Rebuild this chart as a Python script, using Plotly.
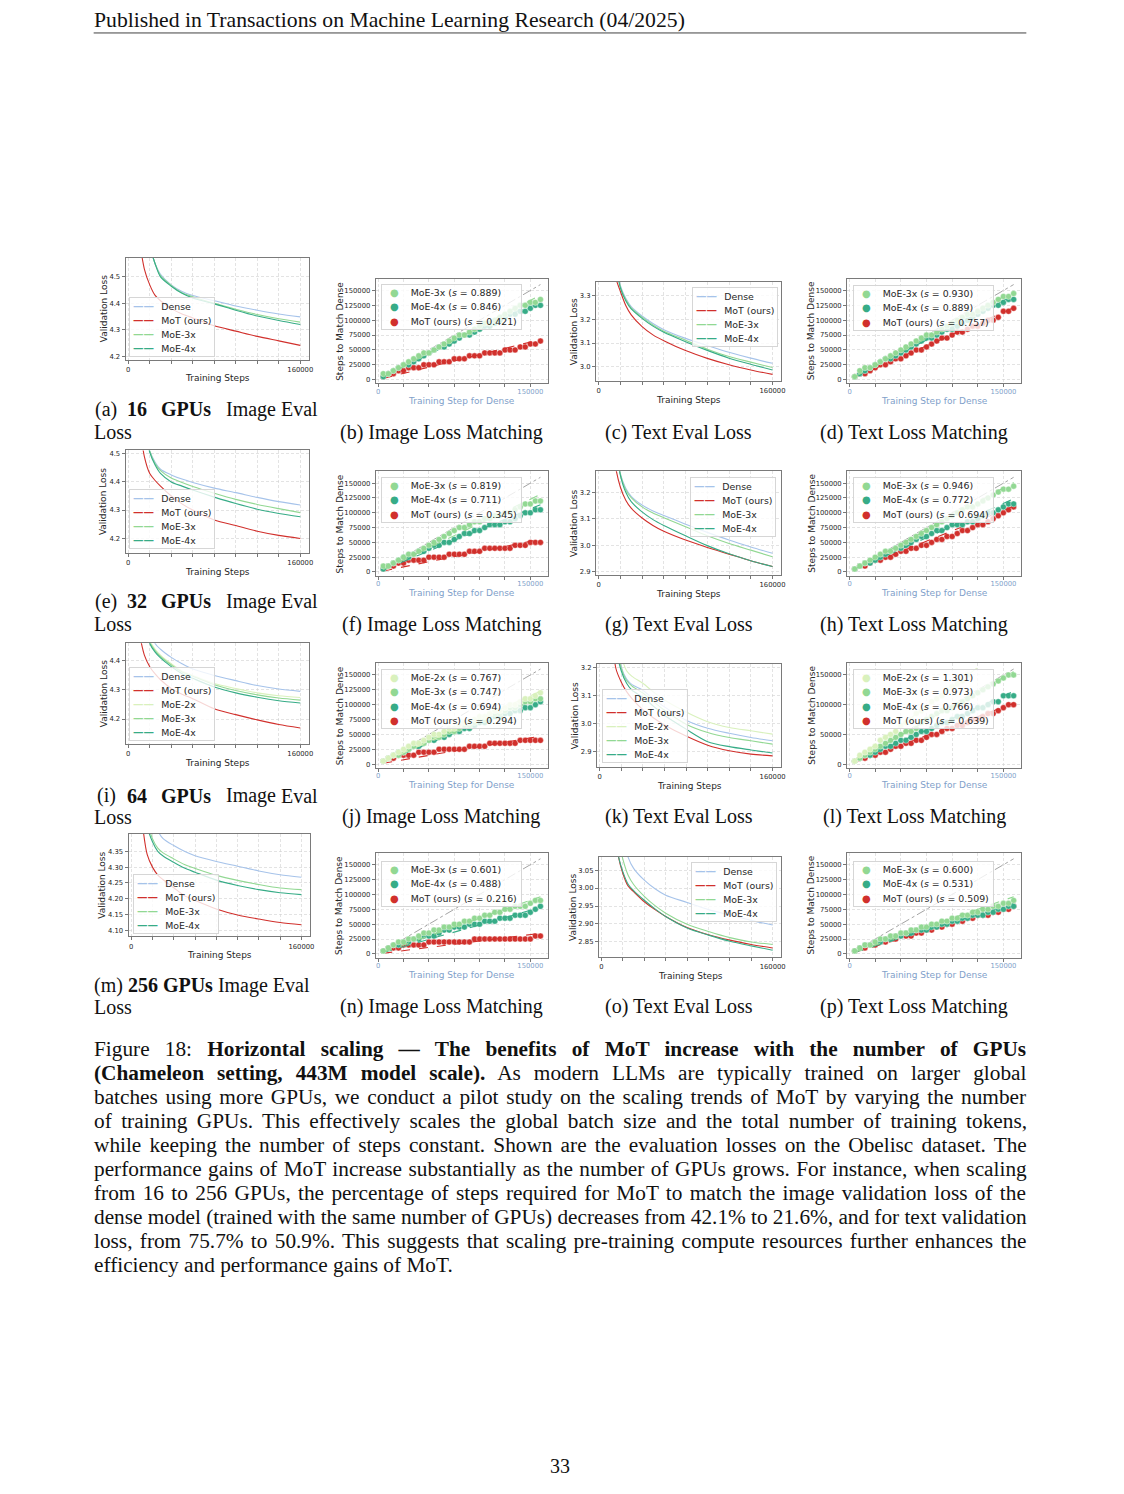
import plotly.graph_objects as go

K = 1000
W, H = 1124, 1494
SANS = "DejaVu Sans"
SERIF = "Liberation Serif"
INK = "#262626"

COLORS = {
    "Dense": "#a6c3ea",
    "MoT (ours)": "#d1302c",
    "MoE-2x": "#d9f1bd",
    "MoE-3x": "#92d893",
    "MoE-4x": "#37ac87",
}

# ---- eval loss curves, training step in thousands ----
LOSS_STEPS = [10, 15, 20, 25, 30, 40, 50, 60, 80, 100, 120, 140, 160]
LOSS_XTICKS = [0, 20, 40, 60, 80, 100, 120, 140, 160]

# (a) 16 GPUs image
A_DENSE = [4.85, 4.72, 4.62, 4.55, 4.51, 4.47, 4.445, 4.43, 4.41, 4.39, 4.374, 4.36, 4.349]
A_MOT = [4.65, 4.53, 4.47, 4.43, 4.41, 4.38, 4.36, 4.345, 4.315, 4.295, 4.275, 4.258, 4.241]
A_MOE3 = [4.85, 4.72, 4.62, 4.55, 4.505, 4.468, 4.44, 4.425, 4.40, 4.378, 4.358, 4.342, 4.329]
A_MOE4 = [4.85, 4.72, 4.62, 4.55, 4.50, 4.465, 4.438, 4.42, 4.398, 4.374, 4.352, 4.335, 4.32]
A_YTICKS = [4.2, 4.3, 4.4, 4.5]

# (c) 16 GPUs text
C_DENSE = [3.7, 3.48, 3.345, 3.29, 3.255, 3.215, 3.183, 3.157, 3.12, 3.09, 3.061, 3.036, 3.014]
C_MOT = [3.6, 3.39, 3.32, 3.26, 3.22, 3.17, 3.135, 3.11, 3.068, 3.035, 3.008, 2.986, 2.967]
C_MOE3 = [3.7, 3.48, 3.34, 3.285, 3.25, 3.21, 3.177, 3.15, 3.112, 3.074, 3.043, 3.019, 2.996]
C_MOE4 = [3.7, 3.47, 3.335, 3.28, 3.245, 3.205, 3.172, 3.146, 3.106, 3.069, 3.036, 3.01, 2.986]
C_YTICKS = [3.0, 3.1, 3.2, 3.3]

# (e) 32 GPUs image
E_DENSE = [4.8, 4.6, 4.51, 4.47, 4.445, 4.425, 4.41, 4.398, 4.378, 4.362, 4.345, 4.33, 4.318]
E_MOT = [4.62, 4.49, 4.43, 4.405, 4.385, 4.35, 4.322, 4.30, 4.265, 4.245, 4.225, 4.21, 4.199]
E_MOE3 = [4.8, 4.6, 4.51, 4.465, 4.44, 4.414, 4.398, 4.384, 4.36, 4.338, 4.32, 4.305, 4.291]
E_MOE4 = [4.8, 4.6, 4.505, 4.46, 4.43, 4.40, 4.385, 4.371, 4.346, 4.323, 4.303, 4.288, 4.276]
E_YTICKS = [4.2, 4.3, 4.4, 4.5]

# (g) 32 GPUs text
G_DENSE = [3.6, 3.4, 3.27, 3.215, 3.185, 3.152, 3.13, 3.113, 3.08, 3.049, 3.02, 2.994, 2.97]
G_MOT = [3.5, 3.31, 3.22, 3.17, 3.14, 3.103, 3.075, 3.053, 3.02, 2.992, 2.967, 2.942, 2.92]
G_MOE3 = [3.6, 3.4, 3.27, 3.21, 3.18, 3.145, 3.122, 3.104, 3.07, 3.036, 3.007, 2.982, 2.957]
G_MOE4 = [3.6, 3.4, 3.265, 3.2, 3.165, 3.126, 3.097, 3.075, 3.036, 2.999, 2.968, 2.942, 2.92]
G_YTICKS = [2.9, 3.0, 3.1, 3.2]

# (i) 64 GPUs image
I_DENSE = [4.75, 4.6, 4.52, 4.46, 4.44, 4.412, 4.39, 4.372, 4.35, 4.332, 4.315, 4.303, 4.295]
I_MOT = [4.5, 4.42, 4.38, 4.355, 4.335, 4.305, 4.285, 4.27, 4.235, 4.215, 4.197, 4.181, 4.169]
I_MOE2 = [4.7, 4.55, 4.47, 4.44, 4.42, 4.39, 4.365, 4.35, 4.322, 4.305, 4.29, 4.28, 4.274]
I_MOE3 = [4.7, 4.55, 4.465, 4.435, 4.415, 4.386, 4.362, 4.347, 4.318, 4.298, 4.283, 4.272, 4.265]
I_MOE4 = [4.7, 4.55, 4.46, 4.43, 4.41, 4.38, 4.356, 4.34, 4.31, 4.29, 4.275, 4.263, 4.255]
I_YTICKS = [4.2, 4.3, 4.4]

# (k) 64 GPUs text
K_DENSE = [3.6, 3.38, 3.205, 3.16, 3.14, 3.12, 3.088, 3.06, 3.012, 2.983, 2.965, 2.95, 2.938]
K_MOT = [3.45, 3.2, 3.15, 3.115, 3.09, 3.05, 3.02, 2.995, 2.955, 2.922, 2.902, 2.89, 2.884]
K_MOE2 = [3.7, 3.45, 3.25, 3.19, 3.17, 3.145, 3.113, 3.085, 3.042, 3.007, 2.986, 2.974, 2.962]
K_MOE3 = [3.55, 3.35, 3.2, 3.155, 3.135, 3.11, 3.079, 3.048, 2.998, 2.968, 2.95, 2.938, 2.926]
K_MOE4 = [3.5, 3.28, 3.19, 3.145, 3.12, 3.095, 3.062, 3.03, 2.98, 2.935, 2.917, 2.905, 2.894]
K_YTICKS = [2.9, 3.0, 3.1, 3.2]

# (m) 256 GPUs image
M_DENSE = [4.7, 4.55, 4.47, 4.415, 4.39, 4.368, 4.35, 4.336, 4.318, 4.303, 4.288, 4.276, 4.268]
M_MOT = [4.45, 4.34, 4.30, 4.275, 4.26, 4.235, 4.21, 4.195, 4.168, 4.149, 4.136, 4.125, 4.118]
M_MOE3 = [4.6, 4.45, 4.39, 4.36, 4.345, 4.326, 4.308, 4.296, 4.274, 4.258, 4.245, 4.234, 4.229]
M_MOE4 = [4.6, 4.43, 4.38, 4.35, 4.335, 4.315, 4.297, 4.284, 4.259, 4.242, 4.229, 4.219, 4.213]
M_YTICKS = [4.10, 4.15, 4.20, 4.25, 4.30, 4.35]

# (o) 256 GPUs text
O_DENSE = [3.4, 3.25, 3.15, 3.085, 3.055, 3.022, 2.998, 2.98, 2.96, 2.94, 2.925, 2.91, 2.897]
O_MOT = [3.25, 3.1, 3.04, 3.005, 2.99, 2.962, 2.94, 2.921, 2.89, 2.87, 2.855, 2.843, 2.833]
O_MOE3 = [3.3, 3.15, 3.08, 3.035, 3.01, 2.977, 2.951, 2.93, 2.899, 2.879, 2.862, 2.85, 2.843]
O_MOE4 = [3.25, 3.1, 3.045, 3.01, 2.993, 2.966, 2.942, 2.921, 2.889, 2.869, 2.852, 2.839, 2.827]
O_YTICKS = [2.85, 2.90, 2.95, 3.00, 3.05]

# ---- steps to match dense, in thousands ----
MATCH_STEPS = [5, 10, 15, 20, 25, 30, 35, 40, 45, 50, 55, 60, 65, 70, 75, 80,
               85, 90, 95, 100, 105, 110, 115, 120, 125, 130, 135, 140, 145, 150, 155, 160]
MATCH_XTICKS = [0, 25, 50, 75, 100, 125, 150]
MATCH_YTICKS = [0, 25, 50, 75, 100, 125, 150]
MATCH_YTICKS_COARSE = [0, 50, 100, 150]

B_MOE3 = [10, 10, 15, 20, 25, 30, 35, 40, 45, 45, 50, 55, 60, 65, 70, 75,
          75, 80, 85, 90, 95, 95, 100, 105, 110, 115, 120, 125, 125, 130, 130, 135]
B_MOE4 = [5, 10, 15, 20, 25, 25, 30, 35, 40, 45, 50, 55, 55, 60, 65, 70,
          75, 75, 80, 85, 90, 90, 95, 100, 105, 110, 110, 115, 115, 120, 125, 125]
B_MOT = [5, 10, 10, 15, 15, 20, 20, 20, 25, 25, 25, 30, 30, 30, 35, 35,
         35, 40, 40, 40, 45, 45, 45, 45, 50, 50, 50, 55, 55, 60, 60, 65]
B_SLOPES = [0.889, 0.846, 0.421]

D_MOE3 = [5, 15, 20, 20, 25, 30, 35, 40, 45, 50, 55, 60, 65, 70, 75, 75,
          80, 85, 90, 95, 100, 105, 110, 110, 115, 120, 125, 130, 135, 140, 140, 145]
D_MOE4 = [5, 10, 15, 20, 25, 30, 35, 35, 40, 45, 50, 55, 60, 65, 70, 70,
          75, 80, 85, 85, 90, 95, 100, 105, 110, 115, 120, 125, 125, 130, 135, 135]
D_MOT = [5, 10, 10, 15, 20, 25, 25, 30, 35, 35, 40, 45, 50, 50, 55, 60,
         65, 70, 70, 75, 80, 80, 85, 90, 90, 95, 100, 100, 105, 115, 115, 120]
D_SLOPES = [0.930, 0.889, 0.757]

F_MOE3 = [10, 10, 15, 20, 25, 30, 30, 35, 40, 45, 50, 55, 60, 65, 70, 75,
          75, 80, 85, 85, 90, 90, 95, 95, 100, 100, 105, 110, 115, 115, 120, 120]
F_MOE4 = [5, 10, 15, 20, 25, 25, 30, 35, 35, 40, 45, 45, 50, 50, 55, 60,
          65, 65, 70, 70, 75, 80, 80, 80, 85, 85, 90, 95, 100, 100, 105, 105]
F_MOT = [5, 10, 10, 15, 15, 20, 20, 20, 20, 25, 25, 25, 25, 30, 30, 30,
         30, 35, 35, 35, 40, 40, 40, 40, 40, 40, 45, 45, 45, 50, 50, 50]
F_SLOPES = [0.819, 0.711, 0.345]

H_MOE3 = [5, 10, 15, 20, 25, 30, 35, 35, 40, 45, 50, 55, 60, 65, 70, 75,
          80, 85, 90, 95, 100, 105, 110, 110, 115, 120, 125, 130, 135, 140, 140, 145]
H_MOE4 = [5, 10, 15, 15, 20, 25, 30, 35, 40, 40, 45, 50, 55, 60, 60, 65,
          70, 70, 75, 80, 80, 80, 85, 85, 90, 95, 100, 100, 105, 110, 115, 115]
H_MOT = [5, 10, 10, 15, 20, 20, 25, 25, 30, 35, 35, 40, 40, 45, 45, 50,
         55, 55, 60, 60, 65, 70, 70, 75, 80, 80, 85, 90, 95, 100, 105, 110]
H_SLOPES = [0.946, 0.772, 0.694]

J_MOE2 = [5, 10, 15, 20, 25, 30, 35, 35, 40, 45, 50, 50, 55, 60, 60, 65,
          70, 70, 75, 80, 80, 85, 90, 90, 95, 100, 100, 105, 110, 110, 115, 120]
J_MOE3 = [5, 10, 15, 15, 20, 25, 30, 35, 35, 40, 45, 45, 50, 55, 55, 60,
          65, 65, 70, 75, 75, 80, 85, 85, 90, 95, 95, 100, 105, 105, 110, 110]
J_MOE4 = [5, 10, 15, 20, 20, 25, 30, 30, 35, 40, 40, 45, 45, 50, 55, 55,
          60, 60, 65, 70, 70, 75, 80, 80, 85, 85, 90, 90, 95, 95, 100, 105]
J_MOT = [5, 10, 10, 15, 15, 15, 15, 20, 20, 20, 20, 25, 25, 25, 25, 25,
         25, 30, 30, 30, 30, 35, 35, 35, 35, 35, 35, 40, 40, 40, 40, 40]
J_SLOPES = [0.767, 0.747, 0.694, 0.294]

L_MOE2 = [5, 15, 20, 25, 30, 40, 45, 50, 55, 65, 70, 75, 85, 90, 95, 105,
          110, 115, 125, 130, 135, 140, 150, None, None, None, None, None, None, None, None, None]
L_MOE3 = [5, 10, 15, 20, 25, 30, 35, 40, 45, 50, 55, 55, 60, 70, 75, 80,
          85, 90, 90, 95, 100, 105, 110, 115, 120, 125, 130, 135, 140, 145, 150, 150]
L_MOE4 = [5, 10, 15, 15, 20, 25, 30, 30, 35, 40, 40, 45, 50, 55, 55, 60,
          65, 70, 70, 75, 80, 80, 85, 90, 95, 95, 100, 105, 105, 115, 115, 115]
L_MOT = [5, 10, 10, 15, 15, 20, 20, 25, 30, 30, 35, 35, 40, 40, 45, 50,
         50, 55, 60, 60, 65, 65, 70, 75, 75, 80, 85, 85, 90, 95, 100, 100]
L_SLOPES = [1.301, 0.973, 0.766, 0.639]

N_MOE3 = [5, 10, 15, 20, 20, 25, 25, 30, 35, 35, 40, 40, 45, 45, 50, 50,
          55, 55, 60, 60, 65, 65, 70, 70, 75, 75, 80, 80, 80, 85, 90, 90]
N_MOE4 = [5, 10, 15, 15, 20, 20, 25, 25, 30, 30, 30, 35, 40, 40, 45, 45,
          45, 50, 50, 50, 55, 55, 55, 60, 60, 60, 65, 65, 65, 70, 75, 80]
N_MOT = [5, 10, 10, 10, 15, 15, 15, 15, 15, 20, 20, 20, 20, 20, 20, 20,
         20, 20, 25, 25, 25, 25, 25, 25, 25, 25, 25, 25, 25, 25, 30, 30]
N_SLOPES = [0.601, 0.488, 0.216]

P_MOE3 = [5, 10, 15, 15, 20, 25, 25, 30, 30, 35, 35, 40, 40, 45, 45, 50,
          50, 55, 55, 60, 60, 65, 65, 70, 70, 75, 75, 80, 80, 85, 85, 90]
P_MOE4 = [5, 10, 15, 15, 20, 20, 25, 25, 30, 30, 35, 35, 40, 40, 40, 45,
          45, 50, 50, 55, 55, 60, 60, 65, 65, 65, 70, 70, 75, 75, 80, 80]
P_MOT = [5, 10, 10, 15, 15, 20, 20, 25, 25, 30, 30, 30, 35, 35, 40, 40,
         45, 45, 50, 50, 55, 55, 60, 60, 65, 65, 65, 70, 70, 75, 75, 80]
P_SLOPES = [0.600, 0.531, 0.509]

HEADER = "Published in Transactions on Machine Learning Research (04/2025)"
PAGE_NUMBER = "33"
CAPTION_LINES = [
    "Figure 18: <b>Horizontal scaling — The benefits of MoT increase with the number of GPUs</b>",
    "<b>(Chameleon setting, 443M model scale).</b> As modern LLMs are typically trained on larger global",
    "batches using more GPUs, we conduct a pilot study on the scaling trends of MoT by varying the number",
    "of training GPUs. This effectively scales the global batch size and the total number of training tokens,",
    "while keeping the number of steps constant. Shown are the evaluation losses on the Obelisc dataset. The",
    "performance gains of MoT increase substantially as the number of GPUs grows. For instance, when scaling",
    "from 16 to 256 GPUs, the percentage of steps required for MoT to match the image validation loss of the",
    "dense model (trained with the same number of GPUs) decreases from 42.1% to 21.6%, and for text validation",
    "loss, from 75.7% to 50.9%. This suggests that scaling pre-training compute resources further enhances the",
    "efficiency and performance gains of MoT.",
]
# extra word spacing (px) that stretches each caption line to the justified width
CAPTION_SPACING = [9.9, 7.65, 2.35, 4.1, 2.8, 1.13, 2.0, -0.1, 2.0, 0.0]

LOSS_PANELS = [
    dict(box=(126, 258, 310, 360), yr=(4.1875, 4.573), yticks=A_YTICKS, dec=1, legend=(129, 297),
         series=[("Dense", A_DENSE), ("MoT (ours)", A_MOT), ("MoE-3x", A_MOE3), ("MoE-4x", A_MOE4)]),
    dict(box=(598, 282, 784, 381.5), yr=(2.939, 3.361), yticks=C_YTICKS, dec=1, legend=(694, 287),
         series=[("Dense", C_DENSE), ("MoT (ours)", C_MOT), ("MoE-3x", C_MOE3), ("MoE-4x", C_MOE4)]),
    dict(box=(126, 451, 310, 553.3), yr=(4.149, 4.512), yticks=E_YTICKS, dec=1, legend=(129, 490),
         series=[("Dense", E_DENSE), ("MoT (ours)", E_MOT), ("MoE-3x", E_MOE3), ("MoE-4x", E_MOE4)]),
    dict(box=(598, 472, 784, 575.3), yr=(2.890, 3.279), yticks=G_YTICKS, dec=1, legend=(692, 478),
         series=[("Dense", G_DENSE), ("MoT (ours)", G_MOT), ("MoE-3x", G_MOE3), ("MoE-4x", G_MOE4)]),
    dict(box=(126, 644, 310, 745), yr=(4.114, 4.461), yticks=I_YTICKS, dec=1, legend=(129, 668),
         series=[("Dense", I_DENSE), ("MoT (ours)", I_MOT), ("MoE-2x", I_MOE2), ("MoE-3x", I_MOE3),
                 ("MoE-4x", I_MOE4)]),
    dict(box=(599, 665, 784, 767.7), yr=(2.845, 3.214), yticks=K_YTICKS, dec=1, legend=(604, 690),
         series=[("Dense", K_DENSE), ("MoT (ours)", K_MOT), ("MoE-2x", K_MOE2), ("MoE-3x", K_MOE3),
                 ("MoE-4x", K_MOE4)]),
    dict(box=(129, 835, 311, 937.7), yr=(4.081, 4.405), yticks=M_YTICKS, dec=2, legend=(133, 875),
         series=[("Dense", M_DENSE), ("MoT (ours)", M_MOT), ("MoE-3x", M_MOE3), ("MoE-4x", M_MOE4)]),
    dict(box=(601, 858, 784, 958.3), yr=(2.808, 3.087), yticks=O_YTICKS, dec=2, legend=(693, 863),
         series=[("Dense", O_DENSE), ("MoT (ours)", O_MOT), ("MoE-3x", O_MOE3), ("MoE-4x", O_MOE4)]),
]

MATCH_PANELS = [
    dict(box=(377, 279, 550, 384), legend=(382, 284), yticks=MATCH_YTICKS,
         series=list(zip(["MoE-3x", "MoE-4x", "MoT (ours)"], [B_MOE3, B_MOE4, B_MOT], B_SLOPES))),
    dict(box=(850, 279, 1025, 384), legend=(856, 285), yticks=MATCH_YTICKS,
         series=list(zip(["MoE-3x", "MoE-4x", "MoT (ours)"], [D_MOE3, D_MOE4, D_MOT], D_SLOPES))),
    dict(box=(377, 472, 550, 576.6), legend=(382, 478), yticks=MATCH_YTICKS,
         series=list(zip(["MoE-3x", "MoE-4x", "MoT (ours)"], [F_MOE3, F_MOE4, F_MOT], F_SLOPES))),
    dict(box=(850, 472, 1025, 576.6), legend=(856, 478), yticks=MATCH_YTICKS,
         series=list(zip(["MoE-3x", "MoE-4x", "MoT (ours)"], [H_MOE3, H_MOE4, H_MOT], H_SLOPES))),
    dict(box=(377, 664, 550, 769), legend=(382, 670), yticks=MATCH_YTICKS,
         series=list(zip(["MoE-2x", "MoE-3x", "MoE-4x", "MoT (ours)"],
                         [J_MOE2, J_MOE3, J_MOE4, J_MOT], J_SLOPES))),
    dict(box=(850, 664, 1025, 769), legend=(856, 670), yticks=MATCH_YTICKS_COARSE,
         series=list(zip(["MoE-2x", "MoE-3x", "MoE-4x", "MoT (ours)"],
                         [L_MOE2, L_MOE3, L_MOE4, L_MOT], L_SLOPES))),
    dict(box=(377, 854, 550, 959), legend=(382, 862), yticks=MATCH_YTICKS,
         series=list(zip(["MoE-3x", "MoE-4x", "MoT (ours)"], [N_MOE3, N_MOE4, N_MOT], N_SLOPES))),
    dict(box=(850, 854, 1025, 959), legend=(856, 862), yticks=MATCH_YTICKS,
         series=list(zip(["MoE-3x", "MoE-4x", "MoT (ours)"], [P_MOE3, P_MOE4, P_MOT], P_SLOPES))),
]

fig = go.Figure()
layout = {}
annotations = []


def note(x, y, text, size, family=SANS, color=INK, xanchor="center", angle=0):
    # left-anchored notes carry 2px of box padding, so pull them back to the measured edge
    if xanchor == "left":
        x -= 2
    annotations.append(dict(xref="paper", yref="paper", x=x / W, y=1 - y / H, text=text,
                            showarrow=False, xanchor=xanchor, yanchor="middle", textangle=angle,
                            font=dict(family=family, size=size, color=color)))


def set_axes(n, box, xr, yr, xvals, xtext, yvals, ytext, xtick_color, xstandoff):
    x0, y0, x1, y1 = box
    sfx = "" if n == 1 else str(n)
    common = dict(showline=True, mirror=True, linecolor="#7a7a7a", linewidth=1, showgrid=True,
                  gridcolor="#d0d0d0", griddash="3px,2px", gridwidth=0.6, zeroline=False, ticks="outside",
                  ticklen=3, tickwidth=0.8, tickcolor="#555", tickmode="array", fixedrange=True)
    layout["xaxis" + sfx] = dict(domain=[x0 / W, x1 / W], range=xr, anchor="y" + sfx, tickvals=xvals,
                                 ticktext=xtext, ticklabelstandoff=xstandoff,
                                 tickfont=dict(family=SANS, size=6.8, color=xtick_color), **common)
    layout["yaxis" + sfx] = dict(domain=[1 - y1 / H, 1 - y0 / H], range=yr, anchor="x" + sfx,
                                 tickvals=yvals, ticktext=ytext,
                                 tickfont=dict(family=SANS, size=6.8, color=INK), **common)
    return "x" + sfx, "y" + sfx


def legend_box(x, y, width, base, rows):
    annotations.append(dict(xref="paper", yref="paper", x=x / W, y=1 - y / H, xanchor="left",
                            yanchor="top", text="<br>".join(rows), align="left", showarrow=False,
                            width=width, bgcolor="rgba(255,255,255,0.8)", bordercolor="#d6d6d6",
                            borderwidth=1, borderpad=1, font=dict(family=SANS, size=base, color=INK)))


n = 0
for panel in LOSS_PANELS:
    n += 1
    x0, y0, x1, y1 = panel["box"]
    xvals = [v * K for v in LOSS_XTICKS]
    xtext = [str(v) if v in (0, 160000) else "" for v in xvals]
    ytext = [f"{v:.{panel['dec']}f}" for v in panel["yticks"]]
    xa, ya = set_axes(n, panel["box"], [-2500, 168000], list(panel["yr"]), xvals, xtext,
                      panel["yticks"], ytext, INK, 0)
    for name, vals in panel["series"]:
        fig.add_trace(go.Scatter(x=[s * K for s in LOSS_STEPS], y=vals, xaxis=xa, yaxis=ya, mode="lines",
                                 line=dict(color=COLORS[name], width=1.1, shape="spline", smoothing=0.8),
                                 showlegend=False, hoverinfo="skip"))
    off = 22 if panel["dec"] == 1 else 26
    note(x0 - off, (y0 + y1) / 2, "Validation Loss", 9, angle=-90)
    note((x0 + x1) / 2, y1 + 19, "Training Steps", 9)
    rows = [f'<span style="font-size:6px">&nbsp;</span>'
            f'<span style="color:{COLORS[name]};font-size:10.5px"><b>——</b></span>'
            f'<span style="font-size:11.5px">&nbsp;&nbsp;</span>'
            f'<span style="font-size:9.4px">{name}</span>' for name, _ in panel["series"]]
    lx, ly = panel["legend"]
    legend_box(lx, ly, 82, 10.8, rows)

for panel in MATCH_PANELS:
    n += 1
    x0, y0, x1, y1 = panel["box"]
    xvals = [v * K for v in MATCH_XTICKS]
    xtext = [str(v) if v in (0, 150000) else "" for v in xvals]
    yvals = [v * K for v in panel["yticks"]]
    xa, ya = set_axes(n, panel["box"], [-2500, 167500], [-6500, 170000], xvals, xtext,
                      yvals, [str(v) for v in yvals], "#7f9fca", -2)
    xs = [s * K for s in MATCH_STEPS]
    fig.add_trace(go.Scatter(x=[xs[0], xs[-1]], y=[xs[0], xs[-1]], xaxis=xa, yaxis=ya, mode="lines",
                             line=dict(color="#8c8c8c", width=0.8, dash="dashdot"),
                             showlegend=False, hoverinfo="skip"))
    for name, vals, slope in reversed(panel["series"]):
        ys = [v * K if v is not None else None for v in vals]
        fig.add_trace(go.Scatter(x=xs, y=ys, xaxis=xa, yaxis=ya, mode="markers",
                                 marker=dict(color=COLORS[name], size=6, line=dict(color="white", width=0.4)),
                                 showlegend=False, hoverinfo="skip"))
        fig.add_trace(go.Scatter(x=[xs[0], xs[-1]], y=[slope * xs[0], slope * xs[-1]], xaxis=xa, yaxis=ya,
                                 mode="lines", line=dict(color=COLORS[name], width=1.1, dash="dash"),
                                 showlegend=False, hoverinfo="skip"))
    note(x0 - 36, (y0 + y1) / 2, "Steps to Match Dense", 9, angle=-90)
    note((x0 + x1) / 2, y1 + 17.5, "Training Step for Dense", 9, color="#7f9fca")
    rows = [f'&nbsp;&nbsp;<span style="color:{COLORS[name]};font-size:10px">●</span>'
            f'<span style="font-size:9.4px">&nbsp;&nbsp;&nbsp;&nbsp;{name} (<i>s</i> = {slope:.3f})</span>'
            for name, _, slope in panel["series"]]
    lx, ly = panel["legend"]
    legend_box(lx, ly, 137, 11, rows)

# sub-figure captions
ROW_Y = [(410, 433), (602, 625), (797, 818), (987, 1008)]
GPU_COUNTS = ["16", "32", "64", "256"]
LETTERS = ["abcd", "efgh", "ijkl", "mnop"]
for (ya, yb), gpus, letters in zip(ROW_Y, GPU_COUNTS, LETTERS):
    if gpus == "256":
        note(94, ya, f"({letters[0]}) <b>{gpus} GPUs</b> Image Eval", 20, SERIF, "#111", "left")
    else:
        for word, cx in [(f"({letters[0]})", 106.5), (f"<b>{gpus}</b>", 137), ("<b>GPUs</b>", 186.5),
                         ("Image", 251.5), ("Eval", 301)]:
            note(cx, ya, word, 20, SERIF, "#111")
    note(94, yb, "Loss", 20, SERIF, "#111", "left")
    note(443, yb, f"({letters[1]}) Image Loss Matching", 20, SERIF, "#111")
    note(681, yb, f"({letters[2]}) Text Eval Loss", 20, SERIF, "#111")
    note(917.5, yb, f"({letters[3]}) Text Loss Matching", 20, SERIF, "#111")

note(94, 20, HEADER, 21.7, SERIF, "#111", "left")
note(562, 1468, PAGE_NUMBER, 20, SERIF, "#111")
for i, (line, ws) in enumerate(zip(CAPTION_LINES, CAPTION_SPACING)):
    note(94, 1050 + 24.1 * i, f'<span style="word-spacing:{ws}px">{line}</span>', 21.3, SERIF, "#111", "left")

layout["shapes"] = [dict(type="line", xref="paper", yref="paper", x0=94 / W, x1=1030 / W,
                         y0=1 - 33 / H, y1=1 - 33 / H, line=dict(color="#111", width=0.8))]
layout["annotations"] = annotations
fig.update_layout(width=W, height=H, margin=dict(l=0, r=0, t=0, b=0), paper_bgcolor="white",
                  plot_bgcolor="white", showlegend=False, **layout)
fig.write_html("out.html", config={"displayModeBar": False, "staticPlot": True},
               post_script="document.body.style.margin='0';document.body.style.overflow='hidden';")
